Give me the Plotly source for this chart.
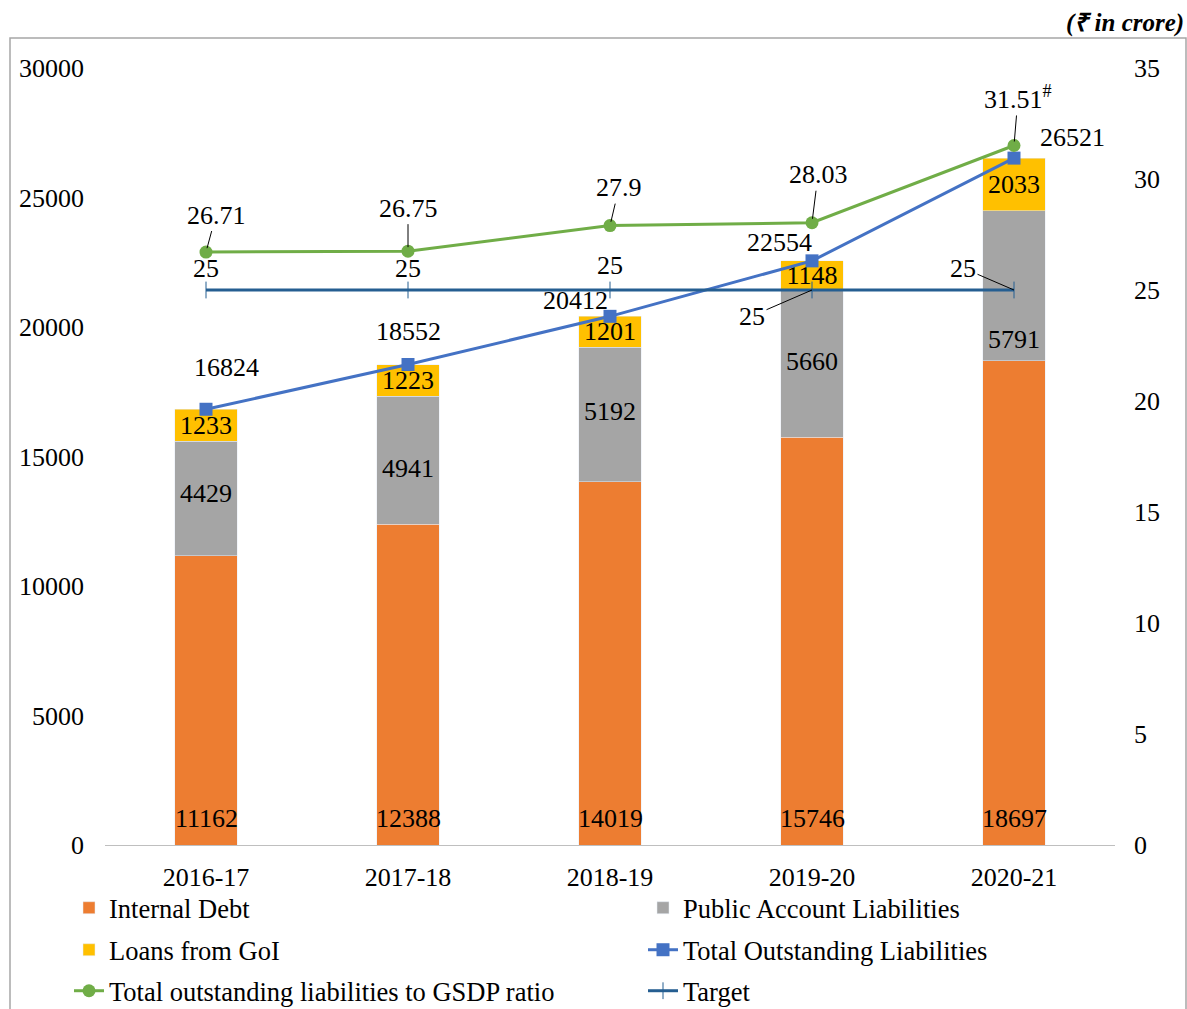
import plotly.graph_objects as go

years = ["2016-17", "2017-18", "2018-19", "2019-20", "2020-21"]
internal_debt = [11162, 12388, 14019, 15746, 18697]
public_account = [4429, 4941, 5192, 5660, 5791]
loans_goi = [1233, 1223, 1201, 1148, 2033]
total_liab = [16824, 18552, 20412, 22554, 26521]
gsdp_ratio = [26.71, 26.75, 27.9, 28.03, 31.51]
target = [25, 25, 25, 25, 25]
gsdp_suffix = ["", "", "", "", "<sup>#</sup>"]

# label offsets (pixels)
total_off = [(20, 42), (0, 33), (-35, 16), (-33, 18), (58, 21)]
gsdp_off = [(10, -37), (0, -43), (9, -38), (6, -48), (4, -48)]
target_off = [(0, 22, False), (0, 22, False), (0, 25, False), (-60, 26, True), (-51, -22, True)]
public_yshift = [5, -8, 3, 2, -54]

FONT = "Liberation Serif, Times New Roman, serif"
FS = 26

L, R, T, B = 105, 72, 68, 164
W, H = 1187, 1009
pw, ph = W - L - R, H - T - B

# legend slots: (legend id, left px, row-centre px)
slots = [("legend", 69, 908), ("legend2", 643, 908), ("legend3", 69, 950),
         ("legend4", 643, 950), ("legend5", 69, 991), ("legend6", 643, 991)]

fig = go.Figure()
fig.add_trace(go.Bar(x=years, y=internal_debt, name="Internal Debt", marker_color="#ED7D31",
                     legend="legend"))
fig.add_trace(go.Bar(x=years, y=public_account, name="Public Account Liabilities", marker_color="#A5A5A5",
                     legend="legend2"))
fig.add_trace(go.Bar(x=years, y=loans_goi, name="Loans from GoI", marker_color="#FFC000",
                     text=loans_goi, textposition="inside", insidetextanchor="middle", textangle=0,
                     textfont=dict(color="black", size=FS), legend="legend3"))
fig.add_trace(go.Scatter(x=years, y=total_liab, name="Total Outstanding Liabilities", mode="lines+markers",
                         line=dict(color="#4472C4", width=3), marker=dict(symbol="square", size=13, color="#4472C4"),
                         legend="legend4"))
fig.add_trace(go.Scatter(x=years, y=gsdp_ratio, name="Total outstanding liabilities to GSDP ratio", mode="lines+markers",
                         line=dict(color="#70AD47", width=3), marker=dict(symbol="circle", size=13, color="#70AD47"),
                         yaxis="y2", legend="legend5"))
fig.add_trace(go.Scatter(x=years, y=target, name="Target", mode="lines+markers",
                         line=dict(color="#255E91", width=3),
                         marker=dict(symbol="line-ns", size=12, color="#255E91", line=dict(width=1, color="#255E91")),
                         yaxis="y2", legend="legend6"))

lab_font = dict(size=FS, color="black", family=FONT)
ann = []
for i, yr in enumerate(years):
    ann.append(dict(x=yr, y=0, yref="y", text=str(internal_debt[i]), showarrow=False,
                    yanchor="middle", yshift=27, font=lab_font))
    ann.append(dict(x=yr, y=internal_debt[i] + public_account[i] / 2, yref="y", text=str(public_account[i]),
                    showarrow=False, yshift=public_yshift[i], font=lab_font))
    dx, dy = total_off[i]
    ann.append(dict(x=yr, y=total_liab[i], yref="y", text=str(total_liab[i]), showarrow=False,
                    xshift=dx, yshift=dy, font=lab_font))
    gx, gy = gsdp_off[i]
    ann.append(dict(x=yr, y=gsdp_ratio[i], yref="y2", text=f"{gsdp_ratio[i]:g}" + gsdp_suffix[i],
                    showarrow=True, arrowhead=0, arrowwidth=1, arrowcolor="black", ax=gx, ay=gy,
                    standoff=4, font=lab_font))
    tx, ty, lead = target_off[i]
    if lead:
        ann.append(dict(x=yr, y=target[i], yref="y2", text=str(target[i]), showarrow=True, arrowhead=0,
                        arrowwidth=1, arrowcolor="black", ax=tx, ay=ty, font=lab_font))
    else:
        ann.append(dict(x=yr, y=target[i], yref="y2", text=str(target[i]), showarrow=False,
                        xshift=tx, yshift=ty, font=lab_font))

ann.append(dict(xref="paper", yref="paper", x=(1186 - L) / pw, y=(845 - 23) / ph, xanchor="right", yanchor="middle",
                text="<b><i>(₹ in crore)</i></b>", showarrow=False,
                font=dict(size=25, color="black", family=FONT)))

legends = {}
for lid, xpx, ypx in slots:
    legends[lid] = dict(orientation="h", x=(xpx - L) / pw, xanchor="left", y=(845 - ypx) / ph, yanchor="middle",
                        bgcolor="rgba(0,0,0,0)", font=dict(size=26.5, color="black", family=FONT))

fig.update_layout(
    width=W, height=H,
    margin=dict(l=L, r=R, t=T, b=B, autoexpand=False),
    barmode="stack", bargap=0.69,
    plot_bgcolor="white", paper_bgcolor="white",
    font=dict(family=FONT, size=FS, color="black"),
    uniformtext=dict(minsize=FS, mode="show"),
    xaxis=dict(range=[-0.5, 4.5], showgrid=False, showline=True, linecolor="#BFBFBF", linewidth=1,
               ticks="", tickfont=dict(size=FS), ticklabelstandoff=9),
    yaxis=dict(range=[0, 30000], dtick=5000, tickformat="d", showgrid=False, zeroline=False, showline=False,
               tickfont=dict(size=FS), ticklabelstandoff=20),
    yaxis2=dict(range=[0, 35], dtick=5, overlaying="y", side="right", showgrid=False, zeroline=False,
                showline=False, tickfont=dict(size=FS), ticklabelstandoff=18),
    annotations=ann,
    showlegend=True,
    shapes=[dict(type="rect", xref="paper", yref="paper",
                 x0=(10 - L) / pw, x1=(1186 - L) / pw, y0=(845 - 1012) / ph, y1=(845 - 38) / ph,
                 line=dict(color="#A6A6A6", width=1.5), fillcolor="rgba(0,0,0,0)", layer="below")],
    **legends,
)

fig.write_html("out.html", config={"displayModeBar": False},
               post_script="document.body.style.margin='0';")
